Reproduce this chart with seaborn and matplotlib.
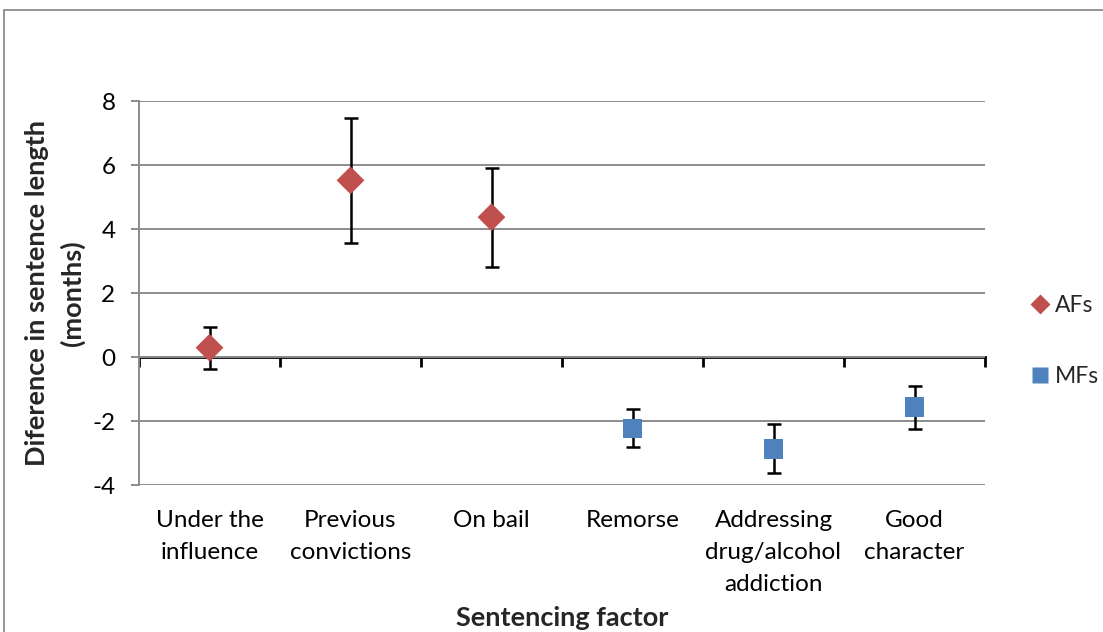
import matplotlib
matplotlib.use("Agg")
import matplotlib.pyplot as plt
import seaborn as sns
import pandas as pd
from matplotlib.lines import Line2D

categories = ["Under the\ninfluence", "Previous\nconvictions", "On bail", "Remorse",
              "Addressing\ndrug/alcohol\naddiction", "Good\ncharacter"]
series = ["AFs", "AFs", "AFs", "MFs", "MFs", "MFs"]
values = [0.29, 5.52, 4.37, -2.23, -2.88, -1.57]
err_low = [-0.37, 3.57, 2.82, -2.82, -3.63, -2.25]
err_high = [0.95, 7.46, 5.90, -1.63, -2.10, -0.91]
yticks = [-4, -2, 0, 2, 4, 6, 8]

colors = {"AFs": "#C0504D", "MFs": "#4F81BD"}
markers = {"AFs": "D", "MFs": "s"}

df = pd.DataFrame({"factor": categories, "series": series, "value": values,
                   "lo": err_low, "hi": err_high})

sns.set_theme(style="white")
plt.rcParams["font.family"] = ["Lato", "DejaVu Sans"]
plt.rcParams["axes.unicode_minus"] = False

fig = plt.figure(figsize=(11.03, 6.32), dpi=100)
ax = fig.add_axes([139/1103, 147/632, 846/1103, 384/632])

xpos = list(range(len(categories)))
ax.errorbar(xpos, df["value"],
            yerr=[df["value"] - df["lo"], df["hi"] - df["value"]],
            fmt="none", ecolor="black", elinewidth=1.8, capsize=5, capthick=1.8, zorder=3)

sns.scatterplot(data=df.assign(x=xpos), x="x", y="value", hue="series", style="series",
                palette=colors, markers=markers, s=200, edgecolor="none",
                legend=False, ax=ax, zorder=4)

ax.set_xlim(-0.5, len(categories) - 0.5)
ax.set_ylim(-4, 8)
ax.set_yticks(yticks)
ax.set_yticklabels([str(t) for t in yticks])
ax.yaxis.grid(True, color="#8C8C8C", linewidth=1.4)
ax.set_axisbelow(True)
for s in ["top", "right", "bottom"]:
    ax.spines[s].set_visible(False)
ax.spines["left"].set_color("#8C8C8C")
ax.spines["left"].set_linewidth(1.4)
ax.tick_params(axis="y", left=True, length=6, width=1.4, color="#8C8C8C",
               labelsize=17.5, pad=11, labelcolor="black")

ax.set_xticks(xpos)
ax.set_xticklabels(categories, fontsize=17.5, linespacing=1.65, va="top")
ax.tick_params(axis="x", bottom=False, length=0, pad=18, labelcolor="black")

sec = ax.secondary_xaxis(4/12)
sec.spines["bottom"].set_color("black")
sec.spines["bottom"].set_linewidth(2)
sec.set_xticks([i - 0.5 for i in range(len(categories) + 1)])
sec.set_xticklabels([])
sec.tick_params(axis="x", direction="out", length=7, width=2, color="black")

ax.set_xlabel("Sentencing factor", fontsize=19.5, fontweight="bold")
ax.xaxis.set_label_coords(0.5, -0.315)
ax.set_ylabel("Diference in sentence length\n(months)", fontsize=19.5,
              fontweight="bold", linespacing=1.5)
ax.yaxis.set_label_coords(-0.064, 0.5)

handles = [Line2D([], [], marker=markers[k], color="none", markerfacecolor=colors[k],
                  markeredgecolor="none", markersize=m, label=k)
           for k, m in [("AFs", 10), ("MFs", 12)]]
fig.legend(handles=handles, loc="center left", bbox_to_anchor=(1007/1103, 1 - 341/632),
           frameon=False, fontsize=16.5, labelspacing=2.2, handletextpad=0.15,
           handlelength=1.05)

# outer chart-area border (left and top edges visible in the reference)
border_kw = dict(transform=fig.transFigure, color="#8C8C8C", linewidth=1.3)
fig.add_artist(Line2D([4/1103, 4/1103], [0, 1 - 10/632], **border_kw))
fig.add_artist(Line2D([4/1103, 1], [1 - 10/632, 1 - 10/632], **border_kw))

fig.savefig("out.png", dpi=100)
